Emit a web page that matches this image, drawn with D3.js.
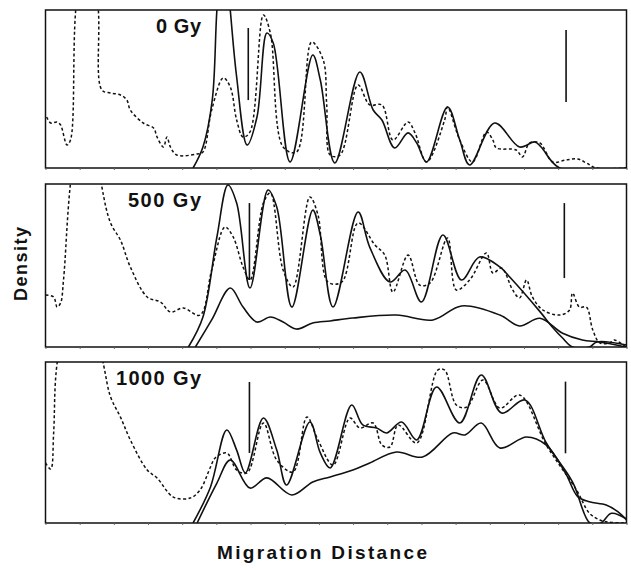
<!DOCTYPE html>
<html><head><meta charset="utf-8">
<script src="https://cdn.jsdelivr.net/npm/d3@7"></script>
<style>body{margin:0;background:#fff}svg{display:block}</style>
</head><body>
<svg id="c" width="631" height="570"></svg>
<script>
// ---- data (migration distance 0-100, relative density 0-100 per panel) ----
const panelLabels = ["0 Gy", "500 Gy", "1000 Gy"];
const xTitle = "Migration Distance";
const yTitle = "Density";
const tickIntervals = 17;

const dashed0 = [[0.2,32.3],[0.9,28.5],[2.0,29.1],[2.6,27.2],[3.7,14.6],[4.3,17.7],[5.2,100],[7.5,170],[9.1,100],[9.7,49.4],[11.2,47.5],[12.9,46.2],[14.0,43.0],[14.6,36.7],[16.8,28.5],[18.6,25.3],[19.2,19.6],[20.3,13.3],[20.9,19.6],[21.5,13.3],[22.6,8.2],[26.1,8.9],[27.1,10.1],[28.6,36.7],[30.6,57.0],[31.8,51.3],[32.9,30.4],[34.0,19.6],[35.2,22.8],[37.5,96.8],[38.7,85.4],[40.9,13.3],[43.2,10.1],[45.8,79.7],[47.8,68.4],[48.4,40],[49.0,8.2],[50.7,8.2],[53.8,52.5],[55.8,39.9],[57.9,39.9],[59.8,17.7],[62.4,29.1],[63.6,22.2],[65.6,3.8],[68.7,30.4],[69.2,38.6],[71.3,17.7],[73.5,3.8],[75.9,22.8],[77.0,17.7],[77.6,12.7],[81.0,11.4],[82.1,7.0],[83.3,15.8],[85.1,15.8],[87.3,3.8],[89.6,5.1],[91.6,5.7],[93.1,3.2],[94.8,0],[100,0]];
const solid0 = [[25.4,0],[27.1,13.3],[28.7,43.0],[29.5,100],[30.6,150],[31.8,100],[32.9,57.6],[34.7,14.6],[36.4,32.3],[38.1,85.4],[39.2,79.1],[42.1,3.8],[46.0,71.5],[47.3,55.7],[49.8,3.2],[54.1,60.8],[56.4,36.7],[57.9,30.4],[60.1,12.7],[62.4,22.2],[63.9,15.8],[65.6,3.8],[69.2,38.6],[71.3,17.7],[73.0,1.9],[77.3,28.5],[81.6,13.3],[84.2,16.5],[85.3,13.3],[88.5,0],[100,0]];
const markers0 = [[34.9,43.0,88.6],[89.6,41.8,87.3]];

const dashed1 = [[0,31.9],[1.4,30.7],[2.0,24.5],[2.6,27.0],[3.1,41.1],[4.3,100.6],[7.0,170],[9.7,98.2],[11.2,76.1],[12.9,65.6],[14.6,49.1],[17.5,30.7],[19.8,27.6],[21.5,21.5],[23.7,23.9],[26.6,19.6],[28.6,47.2],[30.9,73.6],[32.3,67.5],[34.0,49.1],[35.2,41.1],[37.5,88.3],[38.7,94.5],[40.9,47.2],[42.6,36.8],[45.5,92.0],[46.9,81.0],[48.6,39.9],[51.0,39.9],[53.8,76.1],[56.7,62.6],[58.4,56.4],[59.8,33.7],[62.4,56.4],[64.4,38.0],[66.2,39.3],[69.2,66.9],[70.7,35.0],[73.0,41.1],[75.9,57.7],[77.0,45.4],[78.5,48.5],[80.4,35.0],[81.6,30.1],[82.8,41.1],[83.8,30.7],[85.6,22.7],[88.5,19.6],[90.2,22.7],[90.7,33.1],[91.9,24.5],[93.1,24.5],[94.2,10.4],[95.4,2.5],[97.1,2.5],[97.9,4.3],[99.9,0]];
const solid1 = [[24.6,0],[27.1,18.4],[29.5,67.5],[31.4,99.4],[32.9,88.3],[35.2,36.2],[38.3,96.3],[39.8,85.9],[42.4,24.5],[46.0,84.0],[47.3,68.7],[49.5,24.5],[53.8,82.8],[55.8,61.3],[59.3,39.9],[61.9,47.2],[64.7,27.6],[68.4,68.7],[71.6,41.1],[74.7,55.2],[78.2,49.1],[79.9,42.9],[85.1,21.7],[87.3,12.0],[89.0,5.5],[90.7,0],[93.6,0],[94.9,3.1],[100,1.2]];
const lower1 = [[25.8,0],[28.6,16.6],[31.8,36.2],[34.0,24.5],[36.4,15.3],[38.7,18.4],[40.9,15.3],[43.2,11.0],[46.0,14.7],[49.0,16.0],[52.9,17.8],[60.4,19.6],[66.7,16.6],[71.6,25.2],[78.2,19.6],[81.6,12.9],[85.1,17.6],[89.0,8.4],[92.4,4.3],[95.4,3.1],[99.9,0]];
const markers1 = [[35.1,41.1,88.3],[89.3,42.3,88.3]];

const dashed2 = [[0,37.3],[0.9,33.5],[1.4,55.9],[2.0,99.4],[6.0,170],[10.0,98.1],[11.2,78.3],[12.9,65.8],[14.6,51.6],[17.5,32.9],[19.2,28.0],[22.0,16.1],[24.9,15.5],[26.6,20.5],[28.4,34.8],[29.2,40.4],[31.2,43.5],[32.9,32.9],[34.7,31.1],[37.5,62.1],[39.8,39.1],[42.6,31.7],[45.0,65.8],[46.9,51.6],[49.5,36.0],[52.4,65.2],[54.1,59.0],[56.4,62.1],[57.9,48.4],[59.3,47.2],[60.7,60.9],[63.9,49.7],[67.5,95.0],[68.7,95.0],[70.7,73.3],[72.5,72.0],[75.3,88.8],[78.2,71.4],[81.6,79.5],[86.2,48.4],[91.4,20.5],[93.6,6.2],[95.4,1.9],[97.0,0.5],[100,0]];
const solid2 = [[25.4,0],[28.4,22.4],[31.2,57.8],[32.9,45.3],[34.4,31.1],[37.5,65.2],[39.8,45.3],[41.5,23.6],[45.5,62.7],[47.3,43.5],[49.0,34.2],[52.7,73.3],[54.6,60.9],[57.0,59.0],[58.7,55.9],[61.3,62.7],[63.9,51.6],[67.3,84.5],[71.3,62.1],[75.0,91.9],[78.5,68.3],[82.5,76.4],[86.2,49.7],[90.7,25.5],[93.7,0],[95.6,0],[97.4,6.0],[100,2.5]];
const lower2 = [[26.1,0],[29.5,24.8],[31.8,39.1],[35.2,21.7],[38.1,28.0],[42.4,17.4],[46.0,25.5],[49.0,28.6],[52.9,32.9],[55.8,37.3],[60.4,44.1],[64.9,41.0],[70.1,55.9],[72.2,54.7],[75.0,62.1],[78.2,46.6],[82.8,53.4],[86.2,48.4],[89.5,31.0],[91.6,16.4],[93.6,13.2],[96.5,11.2],[98.5,7.0],[100,1.9]];
const markers2 = [[35.1,43.5,87.6],[89.5,43.3,87.8]];

// ---- layout ----
const panels = [
  {label: panelLabels[0], dashed: dashed0, solids: [solid0], markers: markers0, top: 10, bottom: 168},
  {label: panelLabels[1], dashed: dashed1, solids: [solid1, lower1], markers: markers1, top: 184, bottom: 347},
  {label: panelLabels[2], dashed: dashed2, solids: [solid2, lower2], markers: markers2, top: 362, bottom: 523}
];
const labelWidths = [45, 73, 85];

const svg = d3.select("#c");
const x = d3.scaleLinear().domain([0, 100]).range([45.5, 626.5]);
const tickVals = d3.range(0, tickIntervals + 1).map(k => k * 100 / tickIntervals);
const font = "'Liberation Sans', Arial, Helvetica, sans-serif";

panels.forEach((p, i) => {
  const y = d3.scaleLinear().domain([0, 100]).range([p.bottom, p.top]);
  const g = svg.append("g");
  const clipId = "clip" + i;
  svg.append("clipPath").attr("id", clipId).append("rect")
    .attr("x", x(0)).attr("y", p.top).attr("width", x(100) - x(0)).attr("height", p.bottom - p.top);

  const line = d3.line().x(d => x(d[0])).y(d => y(d[1])).curve(d3.curveCatmullRom.alpha(0.5));
  const plot = g.append("g").attr("clip-path", `url(#${clipId})`);

  plot.append("path").datum(p.dashed).attr("d", line)
    .attr("fill", "none").attr("stroke", "#111").attr("stroke-width", 1.5)
    .attr("stroke-dasharray", "3,2.4");
  p.solids.forEach(s => {
    plot.append("path").datum(s).attr("d", line)
      .attr("fill", "none").attr("stroke", "#111").attr("stroke-width", 1.6);
  });
  g.selectAll(".mk").data(p.markers).enter().append("line")
    .attr("x1", d => x(d[0])).attr("x2", d => x(d[0]))
    .attr("y1", d => y(d[1])).attr("y2", d => y(d[2]))
    .attr("stroke", "#111").attr("stroke-width", 1.6);

  // frame
  g.append("rect").attr("x", x(0)).attr("y", p.top)
    .attr("width", x(100) - x(0)).attr("height", p.bottom - p.top)
    .attr("fill", "none").attr("stroke", "#111").attr("stroke-width", 1.5);

  // faint ticks under each frame
  const ax = g.append("g").attr("transform", `translate(0,${p.bottom})`)
    .call(d3.axisBottom(x).tickValues(tickVals).tickSize(2).tickFormat(""));
  ax.select(".domain").remove();
  ax.selectAll("line").attr("stroke", "#666").attr("stroke-width", 1);

  g.append("text").text(p.label)
    .attr("x", 201).attr("y", p.top + 23)
    .attr("text-anchor", "end")
    .attr("font-family", font).attr("font-weight", "bold").attr("font-size", 20)
    .attr("textLength", labelWidths[i]).attr("lengthAdjust", "spacing")
    .attr("fill", "#111");
});

svg.append("text").text(xTitle)
  .attr("x", 322).attr("y", 559).attr("text-anchor", "middle")
  .attr("font-family", font).attr("font-weight", "bold").attr("font-size", 19)
  .attr("textLength", 210).attr("lengthAdjust", "spacing").attr("fill", "#111");

svg.append("text").text(yTitle)
  .attr("transform", "translate(27,264) rotate(-90)").attr("text-anchor", "middle")
  .attr("font-family", font).attr("font-weight", "bold").attr("font-size", 18)
  .attr("textLength", 74).attr("lengthAdjust", "spacing").attr("fill", "#111");
</script>
</body></html>
